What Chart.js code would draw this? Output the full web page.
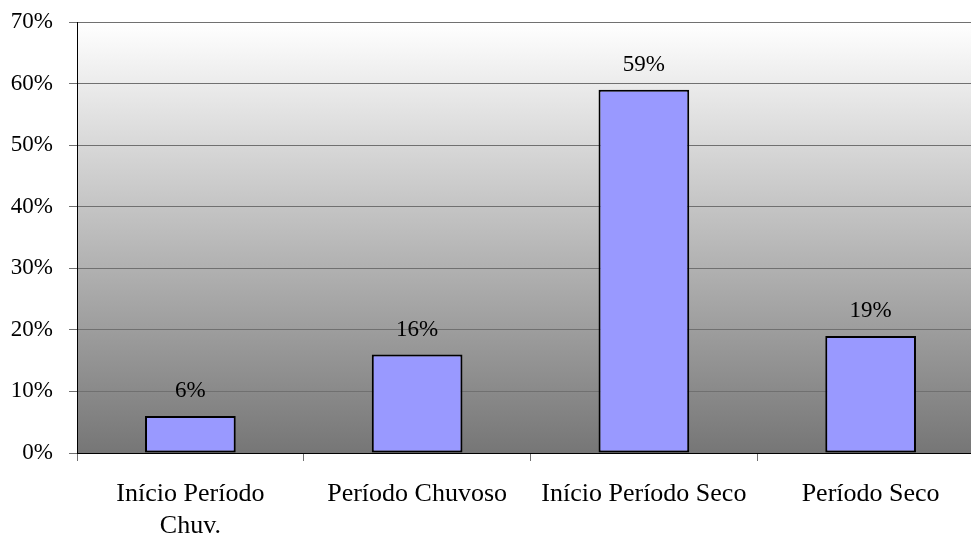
<!DOCTYPE html>
<html>
<head>
<meta charset="utf-8">
<script src="https://cdn.jsdelivr.net/npm/chart.js@4"></script>
<style>
  html, body { margin: 0; padding: 0; background: #ffffff; overflow: hidden; }
  #wrap { width: 971px; height: 536px; overflow: hidden; }
  #chart { display: block; }
</style>
</head>
<body>
<div id="wrap"><canvas id="chart" width="984" height="536"></canvas></div>
<script>
// Share of records per hydrological period
const categories = [['Início Período', 'Chuv.'], 'Período Chuvoso', 'Início Período Seco', 'Período Seco'];
const values = [6, 16, 59, 19];
const valueLabels = ['6%', '16%', '59%', '19%'];
const yTicks = [0, 10, 20, 30, 40, 50, 60, 70];

const FONT = "'Liberation Serif', 'Times New Roman', serif";

// Vertical white-to-grey wash behind the plot area
const plotBackground = {
  id: 'plotBackground',
  beforeDraw(chart) {
    const { ctx, chartArea: a } = chart;
    const g = ctx.createLinearGradient(0, a.top, 0, a.bottom);
    g.addColorStop(0, '#ffffff');
    g.addColorStop(1, '#767676');
    ctx.save();
    ctx.fillStyle = g;
    ctx.fillRect(a.left, a.top, a.right - a.left, a.bottom - a.top);
    ctx.restore();
  }
};

// Percent labels above each bar
const barValues = {
  id: 'barValues',
  afterDatasetsDraw(chart) {
    const { ctx } = chart;
    const meta = chart.getDatasetMeta(0);
    ctx.save();
    ctx.font = '23px ' + FONT;
    ctx.fillStyle = '#000000';
    ctx.textAlign = 'center';
    ctx.textBaseline = 'middle';
    meta.data.forEach((bar, i) => {
      ctx.fillText(valueLabels[i], bar.x, bar.y - 25);
    });
    ctx.restore();
  }
};

new Chart(document.getElementById('chart'), {
  type: 'bar',
  data: {
    labels: categories,
    datasets: [{
      data: values,
      backgroundColor: '#9999ff',
      borderColor: '#000000',
      borderWidth: 2,
      borderSkipped: false,
      categoryPercentage: 0.8,
      barPercentage: 0.5
    }]
  },
  options: {
    responsive: false,
    animation: false,
    layout: { padding: { top: 22, right: 0, left: 0, bottom: 0 } },
    plugins: {
      legend: { display: false },
      tooltip: { enabled: false }
    },
    scales: {
      x: {
        offset: true,
        grid: {
          offset: true,
          drawOnChartArea: false,
          drawTicks: true,
          tickLength: 8,
          color: '#707070'
        },
        border: { display: true, color: '#000000', width: 1 },
        ticks: {
          font: { family: FONT, size: 26, lineHeight: 1.23 },
          color: '#000000',
          padding: 17,
          maxRotation: 0,
          autoSkip: false
        },
        afterFit(scale) {
          scale.height = 83;
          scale.paddingLeft = 0;
          scale.paddingRight = 0;
        }
      },
      y: {
        min: 0,
        max: 70,
        afterBuildTicks(scale) {
          scale.ticks = yTicks.map(v => ({ value: v }));
        },
        grid: {
          color: '#707070',
          lineWidth: 1,
          tickLength: 8
        },
        border: { display: true, color: '#000000', width: 1 },
        ticks: {
          font: { family: FONT, size: 23 },
          color: '#000000',
          padding: 16,
          callback: v => v + '%'
        },
        afterFit(scale) {
          scale.width = 77;
          scale.paddingTop = 0;
          scale.paddingBottom = 0;
        }
      }
    }
  },
  plugins: [plotBackground, barValues]
});
</script>
</body>
</html>
